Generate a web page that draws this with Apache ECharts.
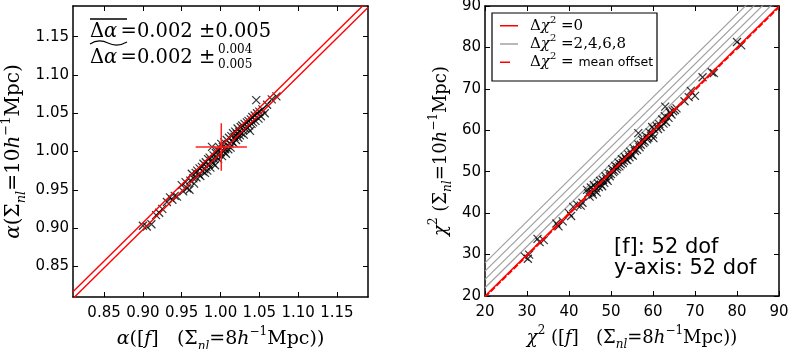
<!DOCTYPE html>
<html>
<head>
<meta charset="utf-8">
<script src="https://cdn.jsdelivr.net/npm/echarts@6/dist/echarts.min.js"></script>
<style>
  html, body { margin: 0; padding: 0; background: #fff; }
  #chart { width: 789px; height: 349px; }
</style>
</head>
<body>
<div id="chart"></div>
<script>
// left panel: alpha for [f] (x) vs alpha at Sigma_nl = 10 (y)
const alphaF = [0.900, 0.905, 0.911, 0.917, 0.921, 0.925, 0.931, 0.935, 0.938, 0.941, 0.944, 0.950, 0.952, 0.955, 0.957,
  0.960, 0.961, 0.963, 0.965, 0.966, 0.968, 0.969, 0.970, 0.972, 0.973, 0.974, 0.976, 0.977, 0.978, 0.979,
  0.980, 0.981, 0.982, 0.983, 0.984, 0.985, 0.986, 0.987, 0.988, 0.989, 0.990, 0.991, 0.992, 0.993, 0.994,
  0.995, 0.996, 0.997, 0.998, 0.999, 1.000, 1.001, 1.002, 1.003, 1.004, 1.005, 1.006, 1.007, 1.008, 1.009,
  1.010, 1.011, 1.012, 1.013, 1.014, 1.015, 1.016, 1.017, 1.018, 1.019, 1.020, 1.021, 1.022, 1.023, 1.024,
  1.025, 1.026, 1.027, 1.028, 1.029, 1.030, 1.031, 1.032, 1.046, 1.034, 1.035, 1.036, 1.037, 1.038, 1.039,
  1.040, 1.041, 1.042, 1.044, 1.045, 1.047, 1.049, 1.050, 1.052, 1.054, 1.057, 1.060, 1.066, 1.072]
const alphaY = [0.903, 0.902, 0.905, 0.917, 0.920, 0.925, 0.934, 0.940, 0.937, 0.942, 0.941, 0.956, 0.948, 0.960, 0.952,
  0.950, 0.962, 0.971, 0.965, 0.958, 0.972, 0.966, 0.975, 0.970, 0.978, 0.968, 0.980, 0.974, 0.984, 0.977,
  0.972, 0.986, 0.980, 0.975, 0.990, 0.983, 0.992, 0.979, 0.988, 1.006, 0.985, 0.995, 0.990, 0.982, 0.998,
  0.993, 1.002, 0.990, 0.996, 1.005, 0.999, 1.010, 0.994, 1.006, 1.000, 1.012, 1.003, 0.997, 1.015, 1.008,
  1.003, 1.018, 1.010, 1.005, 1.020, 1.013, 1.024, 1.011, 1.019, 1.026, 1.015, 1.023, 1.030, 1.018, 1.026,
  1.021, 1.032, 1.024, 1.034, 1.028, 1.022, 1.036, 1.030, 1.067, 1.038, 1.031, 1.040, 1.034, 1.027, 1.042,
  1.036, 1.045, 1.038, 1.047, 1.040, 1.050, 1.043, 1.052, 1.046, 1.055, 1.050, 1.061, 1.068, 1.072]
const alphaTicks = [0.85, 0.90, 0.95, 1.00, 1.05, 1.10, 1.15]
const alphaRange = [0.81, 1.19]
const alphaLineOffsets = [0.007, -0.002]
const crossCenter = [1.001, 1.006]
const crossErr = [0.033, 0.031]

// right panel: chi^2 for [f] (x) vs chi^2 at Sigma_nl = 10 (y)
const chiF = [29.5, 30.2, 30.5, 32.5, 33.0, 34.0, 37.0, 37.5, 38.5, 40.0, 40.5, 41.0, 42.0, 42.8, 43.2,
  44.3, 44.6, 44.9, 45.2, 45.4, 45.7, 45.9, 46.1, 46.4, 46.6, 46.9, 47.1, 47.4, 47.6, 47.9,
  48.1, 48.4, 48.7, 48.9, 49.2, 49.5, 49.7, 50.0, 50.3, 50.5, 50.8, 51.0, 51.3, 51.5, 51.8,
  52.0, 52.3, 52.6, 52.8, 53.1, 53.3, 53.6, 53.9, 54.1, 54.4, 54.6, 54.9, 55.2, 55.4, 55.7,
  56.5, 56.2, 56.5, 56.8, 57.1, 57.4, 57.7, 58.0, 58.3, 58.6, 58.9, 59.2, 59.5, 59.8, 60.0,
  60.3, 60.1, 60.9, 61.2, 61.5, 61.8, 62.2, 62.5, 62.8, 63.1, 62.9, 63.7, 64.0, 64.4, 64.8,
  65.2, 65.6, 67.5, 68.5, 69.0, 70.0, 71.8, 74.0, 74.5, 80.0, 81.0]
const chiY = [29.5, 29.0, 30.0, 33.8, 33.0, 33.5, 37.5, 36.8, 38.0, 40.0, 39.3, 41.5, 42.0, 41.8, 42.5,
  45.6, 44.8, 44.0, 46.2, 45.1, 44.5, 46.8, 45.5, 46.0, 45.0, 47.2, 46.3, 47.8, 46.9, 46.5,
  48.0, 47.3, 48.9, 48.2, 47.8, 49.6, 48.9, 49.4, 50.6, 49.9, 50.2, 51.4, 50.6, 51.1, 52.2,
  51.3, 51.8, 53.0, 52.1, 52.6, 53.6, 53.0, 52.8, 54.2, 53.5, 54.8, 54.1, 53.9, 55.7, 55.0,
  59.3, 55.3, 56.6, 55.9, 56.5, 57.7, 56.9, 57.3, 58.6, 57.8, 58.2, 59.5, 58.7, 60.8, 59.0,
  60.2, 58.1, 61.0, 60.3, 61.5, 60.8, 62.6, 61.6, 63.4, 62.0, 65.7, 63.0, 64.3, 63.8, 64.6,
  64.9, 65.3, 67.0, 68.0, 69.5, 68.3, 72.8, 74.0, 73.8, 81.3, 80.5]
const chiTicks = [20, 30, 40, 50, 60, 70, 80, 90]
const chiRange = [20, 90]
const chiStepOffsets = [2, 4, 6, 8]
const chiMeanOffset = -0.3

const xMark = 'path://M0,0L10,10M10,0L0,10'
const sans = 'DejaVu Sans'
const serif = 'DejaVu Serif'

function mathRich (size, lh, sansSize) {
  const sm = Math.round(size * 0.65)
  lh = lh || size + 8
  return {
    r: { fontFamily: serif, fontSize: size, color: '#000', lineHeight: lh },
    m: { fontFamily: serif, fontStyle: 'italic', fontSize: size, color: '#000', lineHeight: lh },
    sub: { fontFamily: serif, fontStyle: 'italic', fontSize: sm, color: '#000', verticalAlign: 'bottom', lineHeight: lh },
    sup: { fontFamily: serif, fontSize: sm, color: '#000', verticalAlign: 'top', lineHeight: lh },
    s: { fontFamily: sans, fontSize: sansSize || size, color: '#000', lineHeight: lh }
  }
}

function lineThrough (range, off) {
  return [[range[0], range[0] + off], [range[1], range[1] + off]]
}

function frameAxes (gridIndex, range, ticks, isX, name, nameGap, nameSize) {
  const fmt = v => (range[1] < 2 ? v.toFixed(2) : String(v))
  const main = {
    type: 'value',
    gridIndex: gridIndex,
    min: range[0],
    max: range[1],
    position: isX ? 'bottom' : 'left',
    axisLine: { show: true, lineStyle: { color: '#000', width: 1.5 } },
    axisTick: { show: true, inside: true, length: 5, customValues: ticks, lineStyle: { color: '#000' } },
    axisLabel: { customValues: ticks, formatter: fmt, fontFamily: sans, fontSize: 15, color: '#000', margin: isX ? 9 : 4 },
    splitLine: { show: false },
    name: name,
    nameLocation: 'middle',
    nameGap: nameGap,
    nameTextStyle: { rich: mathRich(nameSize) }
  }
  const other = {
    type: 'value',
    gridIndex: gridIndex,
    min: range[0],
    max: range[1],
    position: isX ? 'top' : 'right',
    axisLine: { show: true, lineStyle: { color: '#000', width: 1.5 } },
    axisTick: { show: true, inside: true, length: 5, customValues: ticks, lineStyle: { color: '#000' } },
    axisLabel: { show: false },
    splitLine: { show: false }
  }
  return [main, other]
}

const xAxes = [
  ...frameAxes(0, alphaRange, alphaTicks, true, '{m|α}{r|([}{m|f}{r|]   (Σ}{sub|nl}{r|=8}{m|h}{sup|−1}{r|Mpc))}', 29, 19),
  ...frameAxes(1, chiRange, chiTicks, true, '{m|χ}{sup|2}{r| ([}{m|f}{r|]   (Σ}{sub|nl}{r|=8}{m|h}{sup|−1}{r|Mpc))}', 29, 18)
]
const yAxes = [
  ...frameAxes(0, alphaRange, alphaTicks, false, '{m|α}{r|(Σ}{sub|nl}{r|=10}{m|h}{sup|−1}{r|Mpc)}', 45, 20),
  ...frameAxes(1, chiRange, chiTicks, false, '{m|χ}{sup|2}{r| (Σ}{sub|nl}{r|=10}{m|h}{sup|−1}{r|Mpc)}', 31, 18)
]

const series = []
// left: two red reference lines
alphaLineOffsets.forEach(off => {
  series.push({
    type: 'line', xAxisIndex: 0, yAxisIndex: 0, data: lineThrough(alphaRange, off),
    symbol: 'none', silent: true, lineStyle: { color: '#ff0000', width: 1.4 }, z: 3
  })
})
series.push({
  type: 'scatter', xAxisIndex: 0, yAxisIndex: 0,
  data: alphaF.map((v, i) => [v, alphaY[i]]),
  symbol: xMark, symbolSize: 8,
  itemStyle: { color: 'none', borderColor: '#000', borderWidth: 1.2 }, z: 2
})
// left: red error cross on the mean
series.push({
  type: 'line', xAxisIndex: 0, yAxisIndex: 0, symbol: 'none', silent: true,
  data: [[crossCenter[0] - crossErr[0], crossCenter[1]], [crossCenter[0] + crossErr[0], crossCenter[1]]],
  lineStyle: { color: '#ff2020', width: 1.5 }, z: 5
})
series.push({
  type: 'line', xAxisIndex: 0, yAxisIndex: 0, symbol: 'none', silent: true,
  data: [[crossCenter[0], crossCenter[1] - crossErr[1]], [crossCenter[0], crossCenter[1] + crossErr[1]]],
  lineStyle: { color: '#ff2020', width: 1.5 }, z: 5
})

// right panel
chiStepOffsets.forEach(off => {
  series.push({
    name: 'steps', type: 'line', xAxisIndex: 2, yAxisIndex: 2, data: lineThrough(chiRange, off),
    symbol: 'none', silent: true, lineStyle: { color: '#a0a0a0', width: 1.2 }, itemStyle: { color: '#a0a0a0' }, z: 1
  })
})
series.push({
  type: 'scatter', xAxisIndex: 2, yAxisIndex: 2,
  data: chiF.map((v, i) => [v, chiY[i]]),
  symbol: xMark, symbolSize: 8,
  itemStyle: { color: 'none', borderColor: '#000', borderWidth: 1.2 }, z: 2
})
series.push({
  name: 'zero', type: 'line', xAxisIndex: 2, yAxisIndex: 2, data: lineThrough(chiRange, 0),
  symbol: 'none', silent: true, lineStyle: { color: '#ff0000', width: 1.4 }, itemStyle: { color: '#ff0000' }, z: 3
})
series.push({
  name: 'mean', type: 'line', xAxisIndex: 2, yAxisIndex: 2, data: lineThrough(chiRange, chiMeanOffset),
  symbol: 'none', silent: true, lineStyle: { color: '#ff0000', width: 1.6, type: [6, 2] }, itemStyle: { color: '#ff0000' }, z: 4
})

const legendText = {
  zero: '{r|Δ}{m|χ}{sup|2}{r| =0}',
  steps: '{r|Δ}{m|χ}{sup|2}{r| =2,4,6,8}',
  mean: '{r|Δ}{m|χ}{sup|2}{r| = }{s|mean offset}'
}
const solidIcon = 'path://M0,0H18V1.5H0Z'
const dashIcon = 'path://M0,0H10V1.5H0Z M17.9,0H18V0.05H17.9Z'

const option = {
  animation: false,
  backgroundColor: '#fff',
  grid: [
    { left: 73, top: 6, width: 295, height: 291, outerBoundsMode: 'none', containLabel: false },
    { left: 485, top: 6, width: 294, height: 290, outerBoundsMode: 'none', containLabel: false }
  ],
  xAxis: xAxes,
  yAxis: yAxes,
  legend: {
    data: [
      { name: 'zero', icon: solidIcon },
      { name: 'steps', icon: solidIcon },
      { name: 'mean', icon: dashIcon }
    ],
    z: 20,
    orient: 'vertical',
    left: 492,
    top: 12,
    itemWidth: 18,
    itemHeight: 1.5,
    itemGap: 0,
    padding: [3, 10, 3, 8],
    borderWidth: 0,
    formatter: n => legendText[n],
    textStyle: { rich: mathRich(15, 21.5, 12.5), padding: [0, 0, 0, 7] }
  },
  graphic: [
    { type: 'rect', shape: { x: 492, y: 13, width: 165, height: 68 }, style: { fill: '#fff', stroke: '#000', lineWidth: 1.2 }, z: 6 },
    { type: 'line', shape: { x1: 90, y1: 19, x2: 127, y2: 19 }, style: { stroke: '#000', lineWidth: 1.3 } },
    { type: 'text', x: 90, y: 18, style: { text: '{r|Δ}{m|α} {r|=0.002 ±0.005}', rich: mathRich(19.5) } },
    { type: 'bezierCurve', shape: { x1: 90, y1: 44, cpx1: 96, cpy1: 40, cpx2: 102, cpy2: 40, x2: 108, y2: 43 }, style: { fill: 'none', stroke: '#000', lineWidth: 1.1 } },
    { type: 'bezierCurve', shape: { x1: 108, y1: 43, cpx1: 114, cpy1: 46, cpx2: 120, cpy2: 46, x2: 127, y2: 42 }, style: { fill: 'none', stroke: '#000', lineWidth: 1.1 } },
    { type: 'text', x: 90, y: 44, style: { text: '{r|Δ}{m|α} {r|=0.002 ±}', rich: mathRich(19.5) } },
    { type: 'text', x: 218, y: 44, style: { text: '0.004', font: '12px "DejaVu Serif"', fill: '#000' } },
    { type: 'text', x: 218, y: 59, style: { text: '0.005', font: '12px "DejaVu Serif"', fill: '#000' } },
    { type: 'text', x: 614, y: 237, style: { text: '[f]: 52 dof', font: '21px "DejaVu Sans"', fill: '#000' } },
    { type: 'text', x: 614, y: 258, style: { text: 'y-axis: 52 dof', font: '21px "DejaVu Sans"', fill: '#000' } }
  ],
  series: series
}

const myChart = echarts.init(document.getElementById('chart'))
myChart.setOption(option)
</script>
</body>
</html>
